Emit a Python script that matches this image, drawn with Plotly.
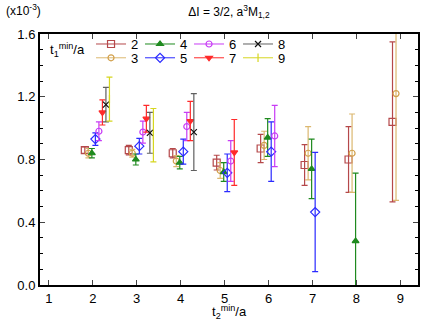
import plotly.graph_objects as go

# ---- data: a^3 M_{1,2} (x10^-3) vs t2_min/a, one series per t1_min/a ----
t1_labels = [2, 3, 4, 5, 6, 7, 8, 9]

t2_s2 = [2, 3, 4, 5, 6, 7, 8, 9]
y_s2 = [0.86, 0.86, 0.84, 0.78, 0.87, 0.765, 0.80, 1.04]
e_s2 = [0.02, 0.03, 0.03, 0.047, 0.09, 0.13, 0.21, 0.51]

t2_s3 = [2, 3, 4, 5, 6, 7, 8, 9]
y_s3 = [0.84, 0.84, 0.79, 0.73, 0.89, 0.84, 0.84, 1.22]
e_s3 = [0.03, 0.025, 0.035, 0.05, 0.09, 0.17, 0.25, 0.68]

t2_s4 = [2, 3, 4, 5, 6, 7, 8]
y_s4 = [0.84, 0.80, 0.78, 0.72, 0.94, 0.74, 0.28]
e_s4 = [0.03, 0.035, 0.04, 0.06, 0.12, 0.19, 0.433]

t2_s5 = [2, 3, 4, 5, 6, 7]
y_s5 = [0.93, 0.885, 0.85, 0.715, 0.85, 0.465]
e_s5 = [0.04, 0.05, 0.08, 0.12, 0.19, 0.38]

t2_s6 = [2, 3, 4, 5, 6]
y_s6 = [0.98, 0.975, 1.01, 0.79, 0.95]
e_s6 = [0.06, 0.07, 0.09, 0.13, 0.195]

t2_s7 = [2, 3, 4, 5]
y_s7 = [1.10, 1.06, 1.045, 0.845]
e_s7 = [0.08, 0.085, 0.125, 0.21]

t2_s8 = [2, 3, 4]
y_s8 = [1.15, 0.97, 0.975]
e_s8 = [0.11, 0.13, 0.245]

t2_s9 = [2, 3]
y_s9 = [1.185, 0.955]
e_s9 = [0.14, 0.17]

x_ticks = [1, 2, 3, 4, 5, 6, 7, 8, 9]
y_ticks = [0.0, 0.4, 0.8, 1.2, 1.6]

series = {
    2: (t2_s2, y_s2, e_s2),
    3: (t2_s3, y_s3, e_s3),
    4: (t2_s4, y_s4, e_s4),
    5: (t2_s5, y_s5, e_s5),
    6: (t2_s6, y_s6, e_s6),
    7: (t2_s7, y_s7, e_s7),
    8: (t2_s8, y_s8, e_s8),
    9: (t2_s9, y_s9, e_s9),
}

# ---- styles ----
styles = {
    2: dict(color="#b5484a", bar="#b5484a", symbol="square-open", size=7),
    3: dict(color="#d2a04c", bar="#dcb870", symbol="circle-open", size=6),
    4: dict(color="#1f8a1f", bar="#1f8a1f", symbol="triangle-up", size=6),
    5: dict(color="#2a2aff", bar="#2a2aff", symbol="diamond-open", size=7),
    6: dict(color="#c83cf5", bar="#c83cf5", symbol="circle-open", size=6),
    7: dict(color="#ff2a2a", bar="#ff2a2a", symbol="triangle-down", size=6),
    8: dict(color="#111111", bar="#606060", symbol="x-thin-open", size=6),
    9: dict(color="#d6d620", bar="#d6d620", symbol="line-ns-open", size=6),
}
OFFSET0 = -0.18
STEP = 0.08
row1 = [2, 4, 6, 8]

fig = go.Figure()
for t1 in t1_labels:
    t2, yv, ev = series[t1]
    st = styles[t1]
    xs, ys, es = [], [], []
    for a, b, c in zip(t2, yv, ev):
        xs += [a + OFFSET0 + STEP * (t1 - 2), None]
        ys += [b, None]
        es += [c, None]
    fig.add_trace(go.Scatter(
        x=xs, y=ys, mode="lines+markers", name=str(t1),
        connectgaps=False,
        line=dict(color=st["bar"], width=1),
        marker=dict(symbol=st["symbol"], size=st["size"], color=st["color"],
                    line=dict(color=st["color"], width=1.2)),
        error_y=dict(type="data", array=es, visible=True, color=st["bar"],
                     thickness=1.2, width=3),
        legend="legend" if t1 in row1 else "legend2",
        showlegend=True,
    ))

leg_common = dict(orientation="h", xanchor="left", yanchor="middle",
                  bgcolor="rgba(0,0,0,0)", font=dict(size=13), itemwidth=30,
                  entrywidth=4, entrywidthmode="pixels", tracegroupgap=0)

fig.update_layout(
    width=436, height=327,
    margin=dict(l=40, r=18, t=34, b=42),
    paper_bgcolor="white", plot_bgcolor="white",
    font=dict(family="Liberation Sans, Arial, sans-serif", size=13, color="black"),
    title=dict(text="ΔI = 3/2, a<sup>3</sup>M<sub>1,2</sub>", x=0.525, xanchor="center",
               y=0.965, yanchor="middle", font=dict(size=12)),
    xaxis=dict(range=[0.8, 9.4], tickvals=x_ticks, ticks="inside", ticklen=5,
               showline=True, linewidth=2, linecolor="black", mirror="ticks",
               showgrid=False, zeroline=False),
    yaxis=dict(range=[0, 1.6], tickvals=y_ticks, tickformat=".1f", ticks="inside",
               ticklen=5, showline=True, linewidth=2, linecolor="black",
               mirror="ticks", showgrid=False, zeroline=False,
               minor=dict(dtick=0.1, ticks="inside", ticklen=3, tickcolor="black")),
    legend=dict(x=0.135, y=0.96, **leg_common),
    legend2=dict(x=0.135, y=0.905, **leg_common),
    showlegend=True,
)

fig.add_annotation(text="t<sub>2</sub><sup>min</sup>/a", xref="paper", yref="paper",
                   x=0.5, y=-0.108, xanchor="center", yanchor="middle",
                   showarrow=False, font=dict(size=13))
fig.add_annotation(text="(x10<sup>-3</sup>)", xref="paper", yref="paper",
                   x=-0.095, y=1.055, xanchor="left", yanchor="bottom",
                   showarrow=False, font=dict(size=12))
fig.add_annotation(text="t<sub>1</sub><sup>min</sup>/a", xref="paper", yref="paper",
                   x=0.022, y=0.935, xanchor="left", yanchor="middle",
                   showarrow=False, font=dict(size=13))

fig.write_html("out.html", config={"displayModeBar": False},
               post_script="document.body.style.margin='0';")
